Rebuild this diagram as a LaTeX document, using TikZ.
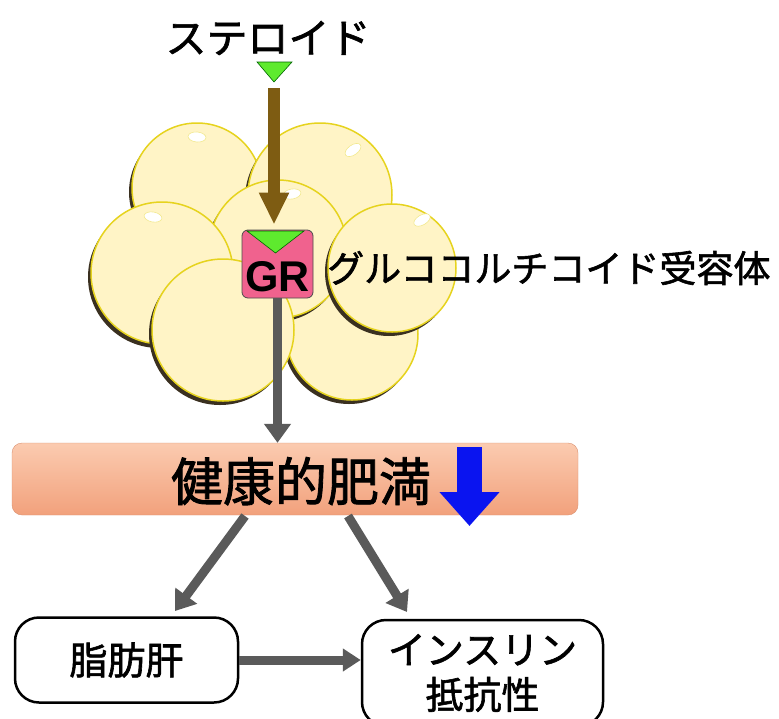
\documentclass[tikz,border=0pt]{standalone}
\usepackage{fontspec}
\setmainfont{Liberation Sans}
\newfontfamily\jp[FakeBold=1.6]{Noto Sans CJK JP}
\usepackage{tikz}
\usetikzlibrary{arrows.meta}
\definecolor{cellfill}{HTML}{FFF4C6}
\definecolor{celledge}{HTML}{E6D31E}
\definecolor{cellshade}{HTML}{3A3020}
\definecolor{steroidbrown}{HTML}{7E5C12}
\definecolor{pathgray}{HTML}{5A5A5A}
\definecolor{grpink}{HTML}{F0628E}
\definecolor{ligandgreen}{HTML}{5EEA2E}
\definecolor{barlight}{HTML}{FBCBB0}
\definecolor{bardark}{HTML}{F2A17C}
\definecolor{dropblue}{HTML}{0A14F0}
\newcommand{\cell}[3]{%
  \fill[cellshade] (#1-3,#2+4) circle (#3pt);
  \filldraw[fill=cellfill, draw=celledge, line width=1.5pt] (#1,#2) circle (#3pt);}
\newcommand{\glint}[3]{%
  \filldraw[fill=white, draw=celledge!50, line width=.6pt, rotate around={#3:(#1,#2)}] (#1,#2) ellipse (9pt and 5pt);}

\begin{document}
\begin{tikzpicture}[x=1pt, y=-1pt,
    jplabel/.style={font=\jp\fontsize{#1}{#1}\selectfont, inner sep=0},
    outcome/.style={draw, line width=2.5pt, rounded corners=24pt, inner sep=0,
      font=\jp\fontsize{38}{45}\selectfont, align=center},
    grayarrow/.style={draw=pathgray, line width=9pt, -{Triangle[length=19pt,width=26pt]}}]
\useasboundingbox (0,0) rectangle (779,718);

% fat cell cluster
\cell{197}{188}{65}
\cell{320}{195}{72}
\cell{352}{334}{66}
\cell{278}{249}{69}
\cell{162}{273}{71}
\cell{392}{268}{64}
\cell{223}{330}{71}
\glint{197}{137}{-5}
\glint{353}{150}{35}
\glint{292}{194}{10}
\glint{153}{217}{-10}
\glint{422}{220}{30}

% steroid and its receptor
\node (steroid) at (268,38) [jplabel=41] {ステロイド};
\filldraw[fill=ligandgreen, draw=green!40!black, line width=.6pt]
  (257,62) -- (292,62) -- (274,82) -- cycle;
\coordinate (ligand) at (274,88);

\node (gr) at (277.5,264) [draw=black!70, line width=.8pt, fill=grpink,
  rounded corners=6pt, minimum width=71pt, minimum height=68pt, inner sep=0] {};
\filldraw[fill=ligandgreen, draw=green!40!black, line width=.6pt]
  (247,231) -- (304,231) -- (275.5,253) -- cycle;
\node (grlabel) at (277.5,277) [font=\bfseries\fontsize{43}{43}\selectfont, inner sep=0] {GR};
\node (receptor) at (327,268) [jplabel=37, anchor=west] {グルココルチコイド受容体};

\draw[draw=steroidbrown, line width=12pt, -{Triangle[length=32pt,width=28pt]}]
  (ligand) -- (ligand |- gr.north) [shorten >=5pt];

% healthy obesity bar
\node (obesity) at (295,479) [rounded corners=10pt, minimum width=566pt, minimum height=72pt,
  top color=barlight, bottom color=bardark, draw=bardark!90!black, line width=.4pt,
  jplabel=52, text depth=0pt] {\hspace*{12pt}健康的肥満};
\coordinate (dropTop) at (469.5,447);
\coordinate (dropTip) at (469.5,526);
\draw[draw=dropblue, line width=25pt, -{Triangle[length=34pt,width=58pt]}] (dropTop) -- (dropTip);

\draw[grayarrow] (gr.south) -- (gr.south |- obesity.north);

% outcomes
\node (liver) at (126.5,660) [outcome, minimum width=223pt, minimum height=85pt] {脂肪肝};
\node (insulin) at (482.5,673) [outcome, minimum width=241pt, minimum height=106pt] {インスリン\\抵抗性};

\coordinate (forkL) at (245,516);
\coordinate (forkR) at (348,516);
\coordinate (liverIn) at (175,611);
\coordinate (insulinIn) at (407,612);
\draw[grayarrow] (forkL) -- (liverIn);
\draw[grayarrow] (forkR) -- (insulinIn);
\draw[grayarrow, -{Triangle[length=18pt,width=22pt]}] (liver.east) -- (liver.east -| insulin.west);
\end{tikzpicture}
\end{document}
